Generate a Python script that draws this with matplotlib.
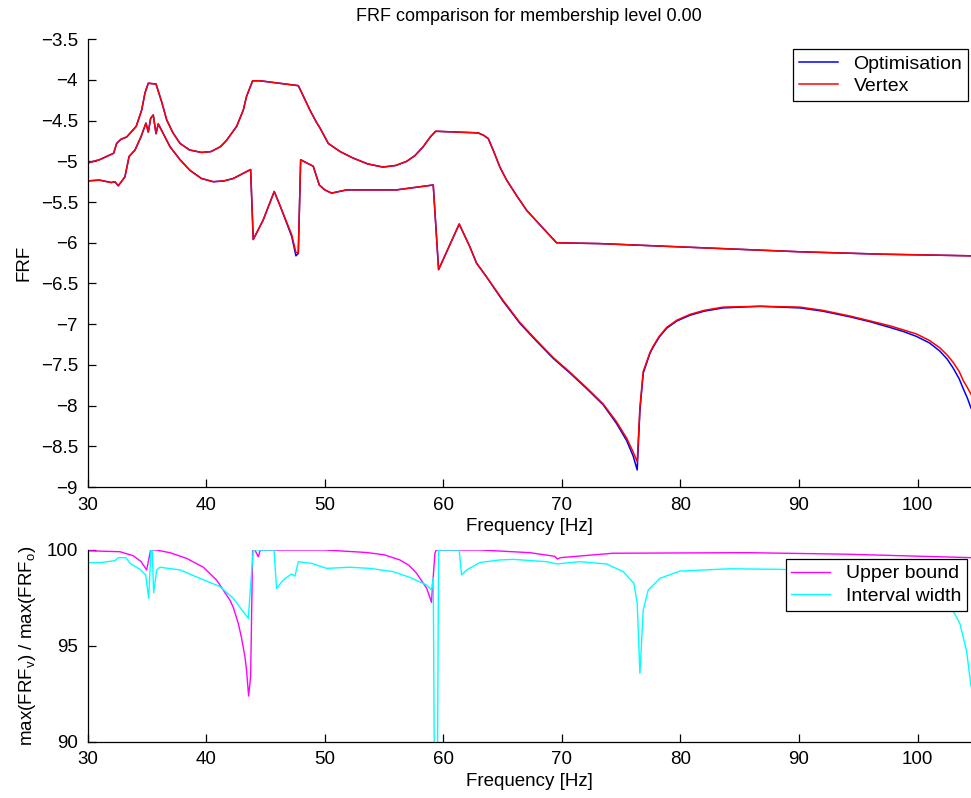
"""FRF comparison plot: optimisation vs vertex bounds, and their ratio."""

from __future__ import annotations

import matplotlib

matplotlib.use("Agg")

import matplotlib.pyplot as plt
from matplotlib.axes import Axes
from matplotlib.ticker import FuncFormatter

# --- top panel: upper envelope of the FRF (optimisation and vertex overlap)
upper_freq = [
    30.0, 31.0, 32.2, 32.45, 32.8, 33.3, 34.1, 34.56, 34.84, 35.12, 35.77, 36.25,
    36.67, 37.2, 37.8, 38.6, 39.6, 40.4, 41.2, 41.73, 42.57, 43.13, 43.41, 43.92,
    44.54, 47.77, 48.2, 48.75, 49.3, 49.6, 50.3, 51.3, 52.4, 53.6, 54.9, 56.0,
    56.9, 57.6, 58.3, 58.9, 59.35, 62.94, 63.4, 63.79, 64.2, 64.77, 65.34, 66.18,
    67.02, 68.15, 69.55, 73.2, 81.6, 90.0, 97.0, 104.5,
]
upper_opt = [
    -5.02, -4.98, -4.90, -4.78, -4.73, -4.70, -4.57, -4.37, -4.16, -4.04, -4.05, -4.27,
    -4.49, -4.65, -4.78, -4.86, -4.89, -4.88, -4.82, -4.74, -4.57, -4.37, -4.20, -4.01,
    -4.01, -4.07, -4.20, -4.37, -4.52, -4.59, -4.78, -4.88, -4.96, -5.03, -5.07, -5.05,
    -5.00, -4.93, -4.82, -4.70, -4.63, -4.65, -4.68, -4.72, -4.86, -5.07, -5.23, -5.42,
    -5.60, -5.78, -6.00, -6.01, -6.06, -6.11, -6.14, -6.16,
]
upper_vertex = list(upper_opt)

# --- top panel: lower envelope of the FRF
lower_freq = [
    30.0, 31.0, 32.0, 32.3, 32.59, 33.15, 33.5, 34.0, 34.5, 34.92, 35.12, 35.32,
    35.54, 35.77, 35.96, 36.95, 37.8, 38.63, 39.6, 40.6, 41.5, 42.29, 43.75, 43.97,
    44.81, 45.74, 46.22, 47.21, 47.57, 47.77, 47.97, 49.03, 49.54, 50.0, 50.58, 51.85,
    53.0, 56.06, 59.15, 59.6, 61.34, 62.24, 62.8, 63.65, 65.05, 66.46, 67.87, 69.27,
    70.68, 72.08, 73.48, 74.61, 75.46, 76.01, 76.35, 76.58, 76.86, 77.42, 77.7, 78.2,
    78.83, 79.7, 80.8, 82.0, 83.6, 86.7, 90.07, 92.0, 94.3, 96.0, 97.66, 98.8,
    99.9, 101.0, 101.87, 102.5, 103.0, 103.5, 103.84, 104.2, 104.5,
]
lower_opt = [
    -5.24, -5.23, -5.26, -5.25, -5.30, -5.19, -4.94, -4.86, -4.70, -4.53, -4.64, -4.47,
    -4.43, -4.66, -4.54, -4.82, -4.98, -5.11, -5.21, -5.25, -5.24, -5.21, -5.10, -5.96,
    -5.72, -5.37, -5.54, -5.92, -6.16, -6.13, -4.98, -5.06, -5.29, -5.35, -5.39, -5.35,
    -5.35, -5.35, -5.29, -6.33, -5.77, -6.05, -6.25, -6.42, -6.72, -6.99, -7.21, -7.42,
    -7.60, -7.79, -7.99, -8.22, -8.43, -8.62, -8.79, -8.06, -7.60, -7.36, -7.28, -7.16,
    -7.05, -6.96, -6.89, -6.84, -6.80, -6.78, -6.80, -6.84, -6.91, -6.97, -7.04, -7.09,
    -7.15, -7.23, -7.33, -7.43, -7.54, -7.67, -7.79, -7.91, -8.03,
]
lower_vertex = [
    -5.24, -5.23, -5.26, -5.25, -5.30, -5.19, -4.94, -4.86, -4.70, -4.53, -4.64, -4.47,
    -4.43, -4.66, -4.54, -4.82, -4.98, -5.11, -5.21, -5.25, -5.24, -5.21, -5.10, -5.96,
    -5.72, -5.37, -5.54, -5.90, -6.12, -6.12, -4.98, -5.06, -5.29, -5.35, -5.39, -5.35,
    -5.35, -5.35, -5.29, -6.33, -5.77, -6.05, -6.25, -6.42, -6.71, -6.98, -7.20, -7.41,
    -7.59, -7.78, -7.98, -8.20, -8.40, -8.57, -8.69, -8.02, -7.58, -7.35, -7.27, -7.15,
    -7.04, -6.95, -6.88, -6.83, -6.79, -6.78, -6.79, -6.83, -6.90, -6.96, -7.02, -7.07,
    -7.12, -7.20, -7.29, -7.38, -7.47, -7.58, -7.69, -7.78, -7.86,
]

# --- bottom panel: vertex / optimisation ratio in percent
upper_bound_freq = [
    30.0, 32.73, 33.85, 34.5, 34.98, 35.32, 35.8, 37.0, 38.36, 39.76, 40.88, 42.0,
    42.29, 42.71, 42.99, 43.27, 43.41, 43.58, 43.75, 43.92, 44.1, 44.4, 44.55, 44.7,
    50.0, 53.5, 55.0, 56.34, 57.1, 57.75, 58.6, 59.0, 59.29, 59.4, 63.1, 67.3,
    69.4, 69.6, 69.9, 74.3, 85.6, 94.0, 104.5,
]
upper_bound_pct = [
    99.96, 99.91, 99.70, 99.40, 98.96, 100.0, 100.0, 99.85, 99.56, 99.10, 98.43, 97.39,
    97.00, 96.17, 95.39, 94.43, 93.70, 92.38, 93.40, 100.0, 100.0, 99.65, 99.97, 100.0,
    100.0, 99.87, 99.75, 99.48, 99.20, 98.78, 98.00, 97.27, 99.83, 100.0, 100.0, 99.86,
    99.67, 99.53, 99.60, 99.83, 99.86, 99.78, 99.60,
]

width_freq = [
    30.0, 31.05, 32.3, 32.6, 33.24, 33.58, 34.42, 34.9, 35.15, 35.35, 35.45, 35.57,
    35.83, 36.1, 37.8, 39.48, 41.16, 42.29, 43.13, 43.55, 43.97, 45.72, 45.94, 46.5,
    47.2, 47.49, 47.77, 48.9, 50.16, 52.1, 53.8, 55.77, 57.18, 58.6, 59.0, 59.15,
    59.25, 59.5, 59.6, 61.34, 61.54, 61.97, 63.1, 64.77, 65.9, 68.7, 69.6, 71.5,
    73.77, 75.17, 76.07, 76.35, 76.58, 76.86, 77.28, 78.26, 79.95, 84.17, 88.4, 92.0,
    96.0, 99.0, 101.5, 102.86, 103.56, 104.12, 104.5,
]
width_pct = [
    99.34, 99.34, 99.44, 99.60, 99.60, 99.30, 98.99, 98.70, 97.48, 100.0, 100.0, 97.77,
    98.96, 99.10, 98.96, 98.52, 98.09, 97.48, 96.78, 96.43, 100.0, 100.0, 98.00, 98.43,
    98.75, 98.64, 99.39, 99.30, 99.04, 99.10, 99.04, 98.87, 98.57, 98.17, 97.91, 98.57,
    88.0, 88.0, 100.0, 100.0, 98.70, 98.96, 99.35, 99.48, 99.51, 99.39, 99.27, 99.39,
    99.27, 98.87, 98.26, 97.22, 93.56, 96.87, 97.91, 98.52, 98.90, 99.02, 98.99, 98.92,
    98.70, 98.35, 97.70, 96.96, 96.17, 94.75, 92.90,
]

FREQ_LIMITS = (30.0, 104.5)
FONT_SIZE = 13.5


def _matlab_label(value: float, _pos: int) -> str:
    return f"{value:g}".replace("-", "\u2212")


def _style_axes(ax: Axes) -> None:
    for side in ("top", "right"):
        ax.spines[side].set_visible(False)
    for side in ("left", "bottom"):
        ax.spines[side].set_linewidth(0.9)
    ax.tick_params(direction="in", length=6, width=0.9, labelsize=FONT_SIZE)
    ax.tick_params(axis="x", pad=7)
    ax.tick_params(axis="y", pad=7)
    ax.yaxis.set_major_formatter(FuncFormatter(_matlab_label))
    ax.set_xlim(*FREQ_LIMITS)
    ax.set_xticks(range(30, 101, 10))
    ax.set_xlabel("Frequency [Hz]", fontsize=FONT_SIZE, labelpad=3)


def _legend(ax: Axes, anchor: tuple[float, float]) -> None:
    leg = ax.legend(
        loc="upper right",
        bbox_to_anchor=anchor,
        borderaxespad=0,
        fontsize=14,
        fancybox=False,
        framealpha=1,
        edgecolor="black",
        borderpad=0.3,
        handlelength=2.0,
        handletextpad=0.8,
        labelspacing=0.25,
    )
    leg.get_frame().set_linewidth(0.9)


plt.rcParams["font.family"] = ["Liberation Sans", "DejaVu Sans"]
plt.rcParams["mathtext.fontset"] = "custom"
plt.rcParams["mathtext.rm"] = "Liberation Sans"
plt.rcParams["mathtext.it"] = "Liberation Sans:italic"

fig = plt.figure(figsize=(9.71, 7.98), dpi=100)
ax_top = fig.add_axes([0.0902, 0.3897, 0.9098, 0.5611])
ax_bot = fig.add_axes([0.0902, 0.0706, 0.9098, 0.2402])

ax_top.plot(upper_freq, upper_opt, color="blue", linewidth=1.1, label="Optimisation")
ax_top.plot(upper_freq, upper_vertex, color="red", linewidth=1.1, label="Vertex")
ax_top.plot(lower_freq, lower_opt, color="blue", linewidth=1.1)
ax_top.plot(lower_freq, lower_vertex, color="red", linewidth=1.1)
_style_axes(ax_top)
ax_top.set_ylim(-9, -3.5)
ax_top.set_yticks([-9, -8.5, -8, -7.5, -7, -6.5, -6, -5.5, -5, -4.5, -4, -3.5])
ax_top.set_ylabel("FRF", fontsize=FONT_SIZE, labelpad=6)
ax_top.set_title("FRF comparison for membership level 0.00", fontsize=13, pad=13)
_legend(ax_top, (0.9966, 0.9777))

ax_bot.plot(upper_bound_freq, upper_bound_pct, color="magenta", linewidth=1.0, label="Upper bound")
ax_bot.plot(width_freq, width_pct, color="cyan", linewidth=1.0, label="Interval width")
_style_axes(ax_bot)
ax_bot.set_ylim(90, 100)
ax_bot.set_yticks([90, 95, 100])
ax_bot.set_ylabel(r"max(FRF$_\mathrm{v}$) / max(FRF$_\mathrm{o}$)", fontsize=FONT_SIZE, labelpad=6)
_legend(ax_bot, (0.9955, 0.953))

fig.savefig("out.png", dpi=100)
